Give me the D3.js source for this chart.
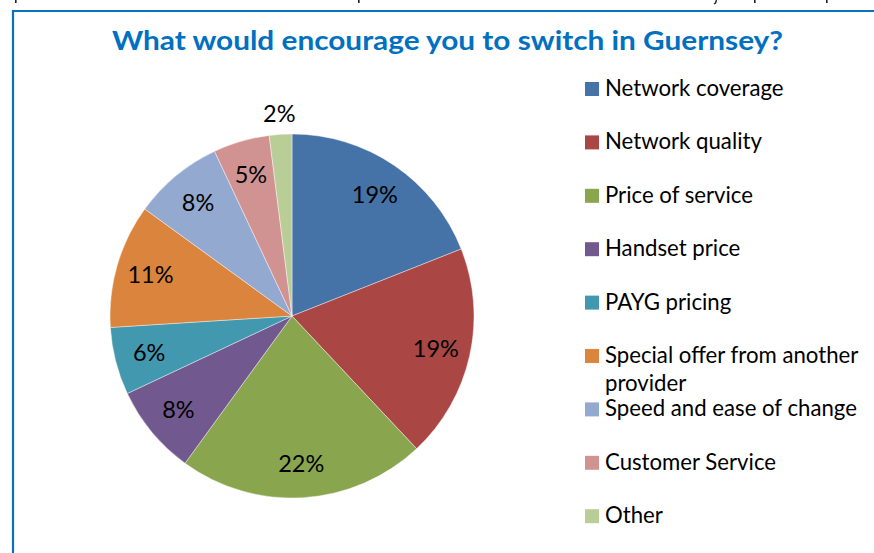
<!DOCTYPE html>
<html>
<head>
<meta charset="utf-8">
<script src="https://cdn.jsdelivr.net/npm/d3@7"></script>
<style>
  html, body { margin: 0; padding: 0; background: #fff; }
  svg { display: block; }
  text { font-family: Lato, "Open Sans", sans-serif; }
</style>
</head>
<body>
<svg id="chart" width="874" height="553"></svg>
<script>
// Survey answers: reasons that would make respondents switch provider
const categories = [
  "Network coverage",
  "Network quality",
  "Price of service",
  "Handset price",
  "PAYG pricing",
  "Special offer from another provider",
  "Speed and ease of change",
  "Customer Service",
  "Other"
];
const shares = [19, 19, 22, 8, 6, 11, 8, 5, 2];
const sliceColors = ["#4572A7", "#AA4643", "#89A54E", "#71588F", "#4198AF",
                     "#DB843D", "#93A9CF", "#D19392", "#B9CD96"];
const title = "What would encourage you to switch in Guernsey?";

const W = 874, H = 553;
const svg = d3.select("#chart");

// Blue frame of the text box holding the chart (open to the right and bottom)
svg.append("path")
  .attr("d", `M13,${H} L13,11 L${W},11`)
  .attr("fill", "none")
  .attr("stroke", "#0A70C2")
  .attr("stroke-width", 2.2);

// Descenders of the running text just above the frame
const descX = [15, 358, 754, 826];
svg.selectAll("rect.desc").data(descX).join("rect")
  .attr("class", "desc")
  .attr("x", d => d).attr("y", 0)
  .attr("width", 1.6).attr("height", 3)
  .attr("fill", "#222");
svg.append("path")
  .attr("d", "M716.5,0 L715.5,3 L714,4")
  .attr("fill", "none").attr("stroke", "#222").attr("stroke-width", 1.4);

// Title, stretched to the width of the chart area
svg.append("text")
  .attr("x", 447.5).attr("y", 50)
  .attr("text-anchor", "middle")
  .attr("font-weight", "bold")
  .attr("font-size", 27)
  .attr("textLength", 671)
  .attr("lengthAdjust", "spacingAndGlyphs")
  .attr("fill", "#0070C0")
  .text(title);

// Pie
const cx = 292, cy = 316, R = 182;
const pie = d3.pie().sort(null).value(d => d)(shares);
const arc = d3.arc().innerRadius(0).outerRadius(R);
const color = d3.scaleOrdinal().domain(categories).range(sliceColors);

const g = svg.append("g").attr("transform", `translate(${cx},${cy})`);
g.selectAll("path.slice").data(pie).join("path")
  .attr("class", "slice")
  .attr("d", arc)
  .attr("fill", (d, i) => color(categories[i]))
  .attr("stroke", "#ffffff")
  .attr("stroke-opacity", 0.6)
  .attr("stroke-width", 0.7);

// Percentage labels: inside the slice, or just outside for very thin slices
const inner = d3.arc().innerRadius(R * 0.81).outerRadius(R * 0.81);
const outer = d3.arc().innerRadius(R * 1.115).outerRadius(R * 1.115);
g.selectAll("text.pct").data(pie).join("text")
  .attr("class", "pct")
  .attr("transform", d => `translate(${(d.data < 3 ? outer : inner).centroid(d)})`)
  .attr("text-anchor", "middle")
  .attr("dy", "0.36em")
  .attr("font-size", 23.5)
  .attr("fill", "#000")
  .text(d => d.data + "%");

// Legend
const legendX = 585, legendTop = 96, rowStep = 53.4, sq = 14;
const wrapAt = { "Special offer from another provider": ["Special offer from another", "provider"] };
const lg = svg.append("g");
const rows = lg.selectAll("g.row").data(categories).join("g")
  .attr("class", "row")
  .attr("transform", (d, i) => `translate(${legendX},${legendTop + i * rowStep})`);
rows.append("rect")
  .attr("x", 0).attr("y", -sq)
  .attr("width", sq).attr("height", sq)
  .attr("fill", d => color(d));
rows.append("text")
  .attr("x", 20).attr("y", 0)
  .attr("font-size", 22.2)
  .attr("fill", "#000")
  .selectAll("tspan")
  .data(d => wrapAt[d] || [d])
  .join("tspan")
  .attr("x", 20)
  .attr("dy", (d, i) => i === 0 ? 0 : 27.5)
  .text(d => d);
</script>
</body>
</html>
